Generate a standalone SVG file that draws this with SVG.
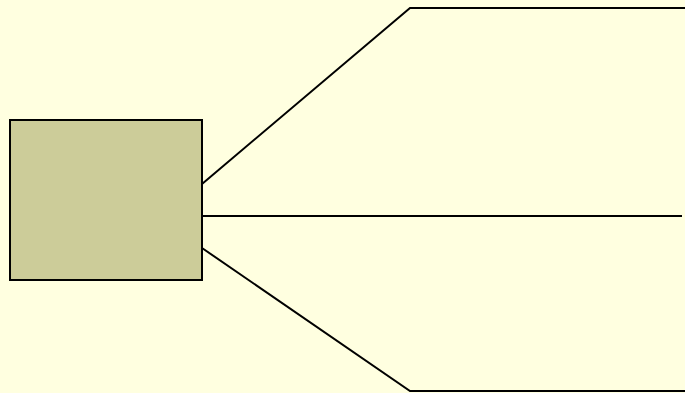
<svg xmlns="http://www.w3.org/2000/svg" width="685" height="393" viewBox="0 0 685 393">
<style>
.box{fill:#CCCC99;stroke:#000;stroke-width:2}
.conn{fill:none;stroke:#000;stroke-width:2}
</style>
<rect x="0" y="0" width="685" height="393" fill="#FFFFE0"/>
<g id="connectors">
<polyline class="conn" points="202,184 410,8 685,8"/>
<line class="conn" x1="202" y1="216" x2="682" y2="216"/>
<polyline class="conn" points="202,248 410,391 685,391"/>
</g>
<g id="node1">
<rect class="box" x="10" y="120" width="192" height="160"/>
</g>
</svg>
